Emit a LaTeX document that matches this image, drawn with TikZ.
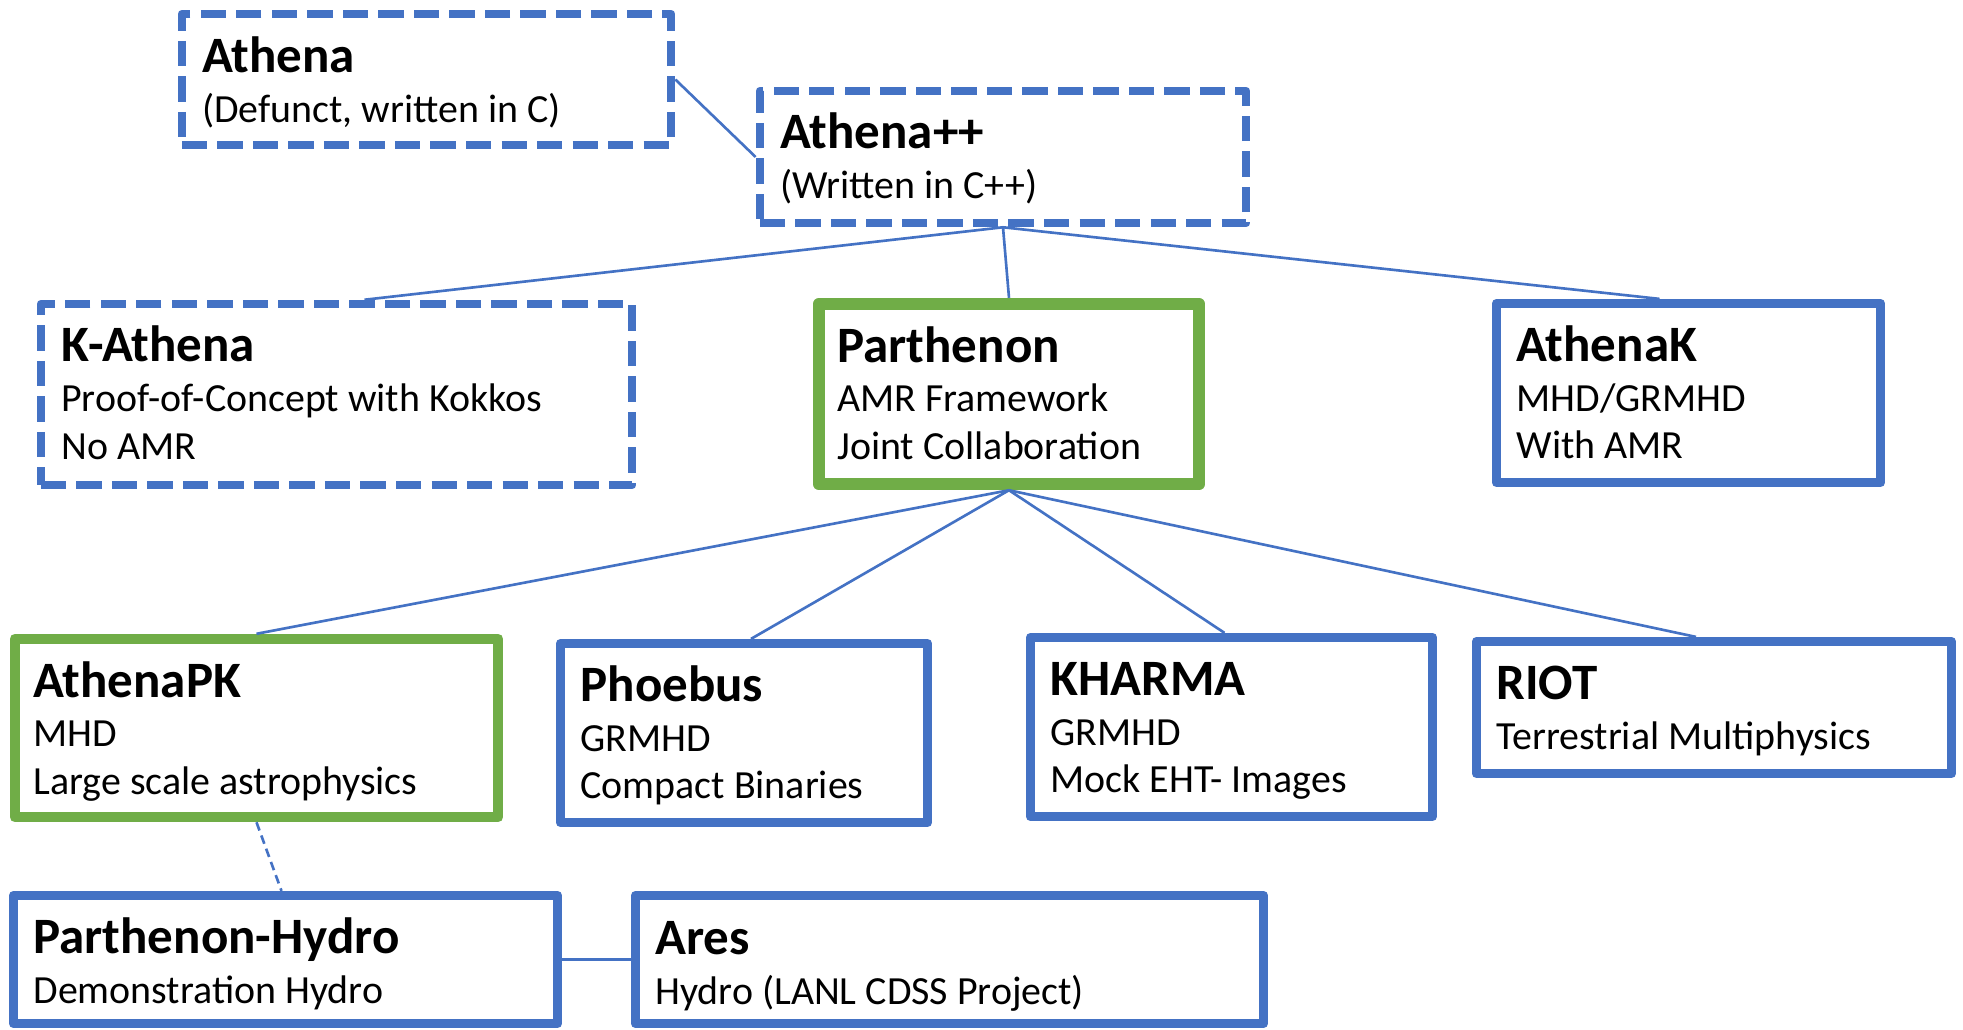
\documentclass[tikz,border=0pt]{standalone}
\usepackage{fontspec}
\setmainfont{Carlito}
\usepackage{tikz}
\usetikzlibrary{calc}
\definecolor{ppblue}{HTML}{4472C4}
\definecolor{ppgreen}{HTML}{70AD47}
\newcommand{\projname}[1]{{\fontsize{14.5}{16}\selectfont\bfseries #1}}

\begin{document}
\begin{tikzpicture}[x=0.01cm,y=-0.01cm,
    proj/.style={draw=ppblue,line width=2.6pt,inner sep=0pt,line join=round},
    oldproj/.style={proj,line width=2.4pt,dash pattern=on 7.2pt off 2.9pt},
    core/.style={proj,draw=ppgreen},
    txt/.style={anchor=base west,inner sep=0pt,align=left,font=\fontsize{11.35}{13.6}\selectfont},
    link/.style={draw=ppblue,line width=0.75pt}]
  \useasboundingbox (0,0) rectangle (1963,1029);

  \node[oldproj,minimum width=4.89cm,minimum height=1.31cm] (athena) at (426.5,79.5) {};
  \node[oldproj,minimum width=4.86cm,minimum height=1.32cm] (athenapp) at (1003,157) {};
  \node[oldproj,minimum width=5.91cm,minimum height=1.81cm] (kathena) at (336.5,394.5) {};
  \node[core,line width=3.5pt,minimum width=3.80cm,minimum height=1.80cm] (parthenon) at (1009,394) {};
  \node[proj,minimum width=3.84cm,minimum height=1.79cm] (athenak) at (1688.5,393) {};
  \node[core,line width=2.8pt,minimum width=4.835cm,minimum height=1.785cm] (athenapk) at (256.5,728) {};
  \node[proj,minimum width=3.67cm,minimum height=1.79cm] (phoebus) at (744,733) {};
  \node[proj,minimum width=4.02cm,minimum height=1.79cm] (kharma) at (1231.5,727) {};
  \node[proj,minimum width=4.75cm,minimum height=1.32cm] (riot) at (1714,707.5) {};
  \node[proj,minimum width=5.44cm,minimum height=1.28cm] (phydro) at (285.5,959.5) {};
  \node[proj,minimum width=6.28cm,minimum height=1.28cm] (ares) at (949.5,959.5) {};

  \node[txt] (athena-t) at ([shift={(24,113)}]athena.north west) {\projname{Athena}\\[0.6pt](Defunct, written in C)};
  \node[txt] (athenapp-t) at ([shift={(24,112)}]athenapp.north west) {\projname{Athena++}\\[0.6pt](Written in C++)};
  \node[txt] (kathena-t) at ([shift={(24,160)}]kathena.north west) {\projname{K-Athena}\\[0.6pt]Proof-of-Concept with Kokkos\\No AMR};
  \node[txt] (parthenon-t) at ([shift={(24,162)}]parthenon.north west) {\projname{Parthenon}\\[0.6pt]AMR Framework\\Joint Collaboration};
  \node[txt] (athenak-t) at ([shift={(24,160)}]athenak.north west) {\projname{AthenaK}\\[0.6pt]MHD/GRMHD\\With AMR};
  \node[txt] (athenapk-t) at ([shift={(23,161)}]athenapk.north west) {\projname{AthenaPK}\\[0.6pt]MHD\\Large scale astrophysics};
  \node[txt] (phoebus-t) at ([shift={(24,160)}]phoebus.north west) {\projname{Phoebus}\\[0.6pt]GRMHD\\Compact Binaries};
  \node[txt] (kharma-t) at ([shift={(24,160)}]kharma.north west) {\projname{KHARMA}\\[0.6pt]GRMHD\\Mock EHT- Images};
  \node[txt] (riot-t) at ([shift={(24,113)}]riot.north west) {\projname{RIOT}\\[0.6pt]Terrestrial Multiphysics};
  \node[txt] (phydro-t) at ([shift={(24,113)}]phydro.north west) {\projname{Parthenon-Hydro}\\[0.6pt]Demonstration Hydro};
  \node[txt] (ares-t) at ([shift={(24,114)}]ares.north west) {\projname{Ares}\\[0.6pt]Hydro (LANL CDSS Project)};

  \draw[link] (athena.east) -- (athenapp.west);
  \draw[link] (athenapp.south) -- ([shift={(28,0)}]kathena.north);
  \draw[link] (athenapp.south) -- (parthenon.north);
  \draw[link] (athenapp.south) -- ([shift={(-29,0)}]athenak.north);
  \foreach \n/\dx in {athenapk/0,phoebus/7,kharma/-7,riot/-18}
    \draw[link] (parthenon.south) -- ([shift={(\dx,0)}]\n.north);
  \draw[link,dash pattern=on 2.5pt off 1.5pt] (athenapk.south) -- ([shift={(-4,0)}]phydro.north);
  \draw[link] (phydro.east) -- (ares.west);
\end{tikzpicture}
\end{document}
